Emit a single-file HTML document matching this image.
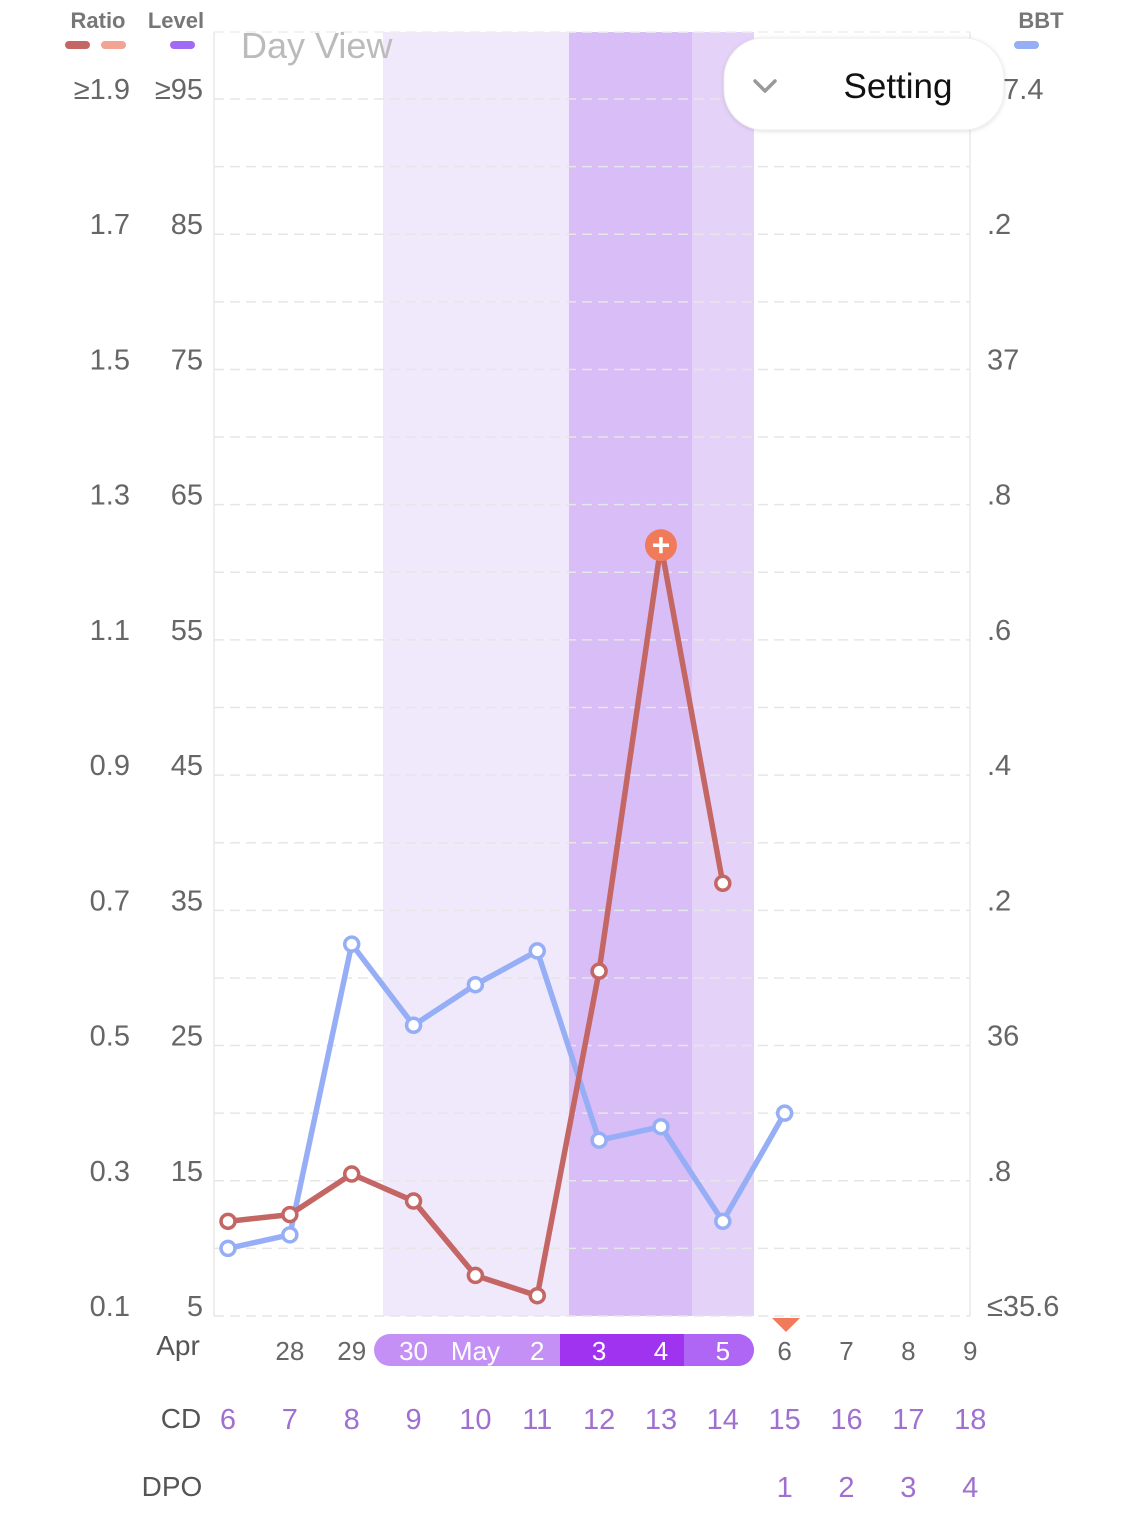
<!DOCTYPE html>
<html><head><meta charset="utf-8"><style>
body{margin:0;background:#fff;font-family:"Liberation Sans",sans-serif}
svg text{font-family:"Liberation Sans",sans-serif}
</style></head><body>
<svg id="c" width="1125" height="1515"></svg>
<script>
const days=["","28","29","30","May","2","3","4","5","6","7","8","9"];
const cd=["6","7","8","9","10","11","12","13","14","15","16","17","18"];
const dpo=["","","","","","","","","","1","2","3","4"];
const ratio=[0.24,0.25,0.31,0.27,0.16,0.13,0.61,1.24,0.74];
const bbt=[35.70,35.72,36.15,36.03,36.09,36.14,35.86,35.88,35.74,35.90];
const ratioTicks=["0.1","0.3","0.5","0.7","0.9","1.1","1.3","1.5","1.7","≥1.9"];
const levelTicks=["5","15","25","35","45","55","65","75","85","≥95"];
const bbtTicks=["≤35.6",".8","36",".2",".4",".6",".8","37",".2","37.4"];
const peakIndex=7;
const NS="http://www.w3.org/2000/svg";
const svg=document.getElementById('c');
const Y0=1316,Y1=99;
const X=i=>228+61.85*i;
const yR=v=>Y0-(v-0.1)/1.8*(Y0-Y1);
const yB=v=>Y0-(v-35.6)/1.8*(Y0-Y1);
function el(t,a,txt){const e=document.createElementNS(NS,t);for(const k in a)e.setAttribute(k,a[k]);if(txt!=null)e.textContent=txt;svg.appendChild(e);return e;}
let e;
e=el('rect',{x:383,y:32,width:186,height:1284,fill:'#f0e8fb'});
e=el('rect',{x:569,y:32,width:123,height:1284,fill:'#d8bdf7'});
e=el('rect',{x:692,y:32,width:62,height:1284,fill:'#e5d2f8'});
el('line',{x1:214,y1:32,x2:214,y2:1316,stroke:'#eee','stroke-width':2});
el('line',{x1:970,y1:32,x2:970,y2:1316,stroke:'#eee','stroke-width':2});
for(let k=0;k<=18;k++){const y=Y1+k*(Y0-Y1)/18;
 e=el('line',{x1:214,y1:y,x2:970,y2:y,stroke:'#e6e6e6','stroke-width':1.5,'stroke-dasharray':'10 6'});}
el('line',{x1:214,y1:32,x2:970,y2:32,stroke:'#eee','stroke-width':1.5,'stroke-dasharray':'10 6'});
for(let k=0;k<10;k++){const y=Y0-k*(Y0-Y1)/9;
 e=el('text',{x:130,y:y,'text-anchor':'end','font-size':29,fill:'#666'},ratioTicks[k]);
 e=el('text',{x:203,y:y,'text-anchor':'end','font-size':29,fill:'#666'},levelTicks[k]);
 e=el('text',{x:987,y:y,'font-size':29,fill:'#666'},bbtTicks[k]);}
el('text',{x:98,y:28,'text-anchor':'middle','font-size':22,'font-weight':'bold',fill:'#777'},'Ratio');
el('text',{x:176,y:28,'text-anchor':'middle','font-size':22,'font-weight':'bold',fill:'#777'},'Level');
el('text',{x:1041,y:28,'text-anchor':'middle','font-size':22,'font-weight':'bold',fill:'#777'},'BBT');
el('line',{x1:69,y1:45,x2:86,y2:45,stroke:'#c46663','stroke-width':8,'stroke-linecap':'round'});
el('line',{x1:105,y1:45,x2:122,y2:45,stroke:'#f2a393','stroke-width':8,'stroke-linecap':'round'});
el('line',{x1:174,y1:45,x2:191,y2:45,stroke:'#a06af2','stroke-width':8,'stroke-linecap':'round'});
el('line',{x1:1018,y1:45,x2:1035,y2:45,stroke:'#96aef5','stroke-width':8,'stroke-linecap':'round'});
e=el('text',{x:241,y:58,'font-size':36,fill:'#bbb'},'Day View');
e=el('polyline',{points:bbt.map((v,i)=>X(i)+','+yB(v)).join(' '),fill:'none',stroke:'#96aef5','stroke-width':5.5,'stroke-linejoin':'round'});
bbt.forEach((v,i)=>{const c=el('circle',{cx:X(i),cy:yB(v),r:7,fill:'#fff',stroke:'#96aef5','stroke-width':3.5});});
e=el('polyline',{points:ratio.map((v,i)=>X(i)+','+yR(v)).join(' '),fill:'none',stroke:'#c46663','stroke-width':5.5,'stroke-linejoin':'round'});
ratio.forEach((v,i)=>{if(i===peakIndex)return;const c=el('circle',{cx:X(i),cy:yR(v),r:7,fill:'#fff',stroke:'#c46663','stroke-width':3.5});});
{const px=X(peakIndex),py=yR(ratio[peakIndex]);
 e=el('circle',{cx:px,cy:py,r:16,fill:'#f07a5a'});
 el('line',{x1:px-8,y1:py,x2:px+8,y2:py,stroke:'#fff','stroke-width':3.5});
 el('line',{x1:px,y1:py-8,x2:px,y2:py+8,stroke:'#fff','stroke-width':3.5});}
e=el('polygon',{points:'772,1318 800,1318 786,1332',fill:'#f07a5a'});
e=el('rect',{x:374,y:1334,width:380,height:32,rx:16,fill:'#c590f5'});
el('rect',{x:560,y:1334,width:124,height:32,fill:'#a033f0'});
el('path',{d:'M684 1334 H738 A16 16 0 0 1 738 1366 H684 Z',fill:'#b066f5'});
e=el('text',{x:178,y:1355,'text-anchor':'middle','font-size':28,fill:'#555'},'Apr');
days.forEach((d,i)=>{const w=(i>=3&&i<=8);const t=el('text',{x:X(i),y:1360,'text-anchor':'middle','font-size':26,fill:w?'#fff':'#666'},d);});
el('text',{x:181,y:1428,'text-anchor':'middle','font-size':28,fill:'#555'},'CD');
cd.forEach((d,i)=>{const t=el('text',{x:X(i),y:1429,'text-anchor':'middle','font-size':29,fill:'#a070d0'},d);});
el('text',{x:172,y:1496,'text-anchor':'middle','font-size':28,fill:'#555'},'DPO');
dpo.forEach((d,i)=>{if(!d)return;const t=el('text',{x:X(i),y:1497,'text-anchor':'middle','font-size':29,fill:'#a070d0'},d);});
const defs=el('defs',{});
defs.innerHTML='<filter id="sh" x="-20%" y="-30%" width="140%" height="160%"><feDropShadow dx="0" dy="1" stdDeviation="2" flood-color="#000" flood-opacity="0.12"/></filter>';
e=el('rect',{x:724,y:38,width:280,height:92,rx:40,fill:'#fff',stroke:'#eee','stroke-width':1,filter:'url(#sh)'});
el('polyline',{points:'755,81 765,91 775,81',fill:'none',stroke:'#999','stroke-width':3.5,'stroke-linecap':'round','stroke-linejoin':'round'});
el('text',{x:898,y:98,'text-anchor':'middle','font-size':35,fill:'#111'},'Setting');
</script>
</body></html>
